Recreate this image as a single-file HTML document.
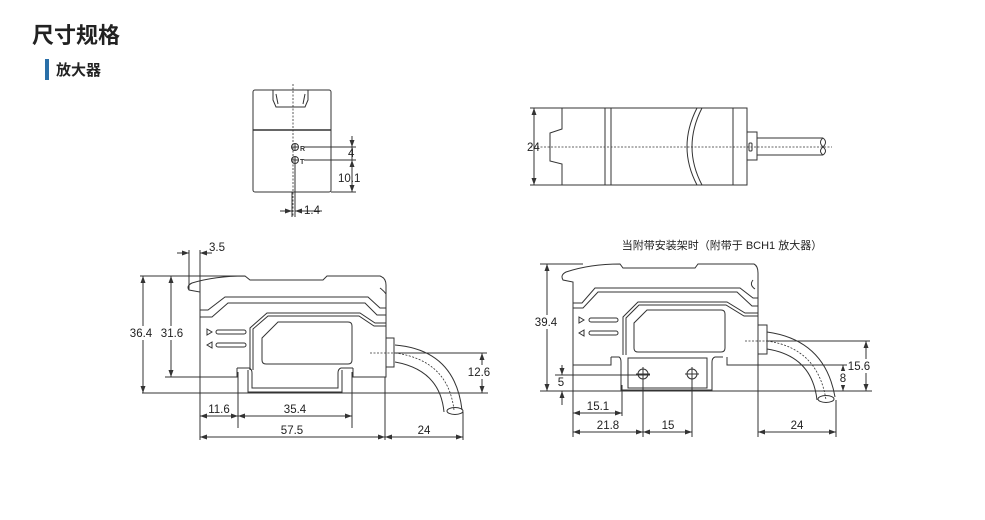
<!DOCTYPE html>
<html><head><meta charset="utf-8"><style>
html,body{margin:0;padding:0;background:#fff;}
body{width:985px;height:520px;overflow:hidden;position:relative;}
svg{position:absolute;left:0;top:0;}
.t{font-family:"Liberation Sans","Noto Sans CJK SC",sans-serif;fill:#222;}
</style></head><body>
<svg width="985" height="520" viewBox="0 0 985 520" xmlns="http://www.w3.org/2000/svg">
<defs>
<marker id="a" markerWidth="8" markerHeight="6" refX="7" refY="3" orient="auto" markerUnits="userSpaceOnUse"><path d="M0,0.5 L7,3 L0,5.5 Z" fill="#333"/></marker>
<marker id="b" markerWidth="8" markerHeight="6" refX="1" refY="3" orient="auto" markerUnits="userSpaceOnUse"><path d="M8,0.5 L1,3 L8,5.5 Z" fill="#333"/></marker>
</defs>
<text x="32" y="43" class="t" font-size="22" font-weight="bold" fill="#111">尺寸规格</text>
<rect x="45" y="59" width="4" height="21" fill="#2a6fa8"/>
<text x="56" y="75" class="t" font-size="15" font-weight="bold">放大器</text>

<g fill="none" stroke="#333" stroke-width="1">
<!-- front view -->
<rect x="253" y="90" width="78" height="102" rx="2"/>
<line x1="253" y1="130" x2="331" y2="130" stroke-width="1.5"/>
<path d="M273,90 L273,100 L276,107 L305,107 L308,100 L308,90"/>
<path d="M276,94 L278,104 M305,94 L303,104"/>
<line x1="293" y1="84" x2="293" y2="217" stroke-dasharray="2,1.5" stroke-width="0.8"/>
<circle cx="295" cy="147" r="3.5"/><circle cx="295" cy="160" r="3.5"/>
<path d="M291.5,147 H298.5 M295,143.5 V150.5 M291.5,160 H298.5 M295,156.5 V163.5"/>
<line x1="304" y1="147" x2="356" y2="147"/><line x1="304" y1="160" x2="356" y2="160"/>
<line x1="331" y1="192" x2="356" y2="192"/>
<line x1="352" y1="136" x2="352" y2="147" marker-end="url(#a)"/>
<line x1="352" y1="160" x2="352" y2="192" marker-start="url(#b)" marker-end="url(#a)"/>
<line x1="352" y1="147" x2="352" y2="160"/>
<line x1="292" y1="192" x2="292" y2="217"/><line x1="295" y1="164" x2="295" y2="217"/>
<line x1="280" y1="211" x2="292" y2="211" marker-end="url(#a)"/>
<line x1="295" y1="211" x2="322" y2="211" marker-start="url(#b)"/>

<!-- side view -->
<line x1="534" y1="108" x2="534" y2="185" marker-start="url(#b)" marker-end="url(#a)"/>
<line x1="530" y1="108" x2="562" y2="108"/><line x1="530" y1="185" x2="562" y2="185"/>
<path d="M562,108 H747 V185 H562 V164 L550,161 V133 L562,129 Z"/>
<line x1="605" y1="108" x2="605" y2="185"/><line x1="611" y1="108" x2="611" y2="185"/>
<path d="M697,108 Q677,147 697,185 M702,108 Q682,147 702,185"/>
<line x1="733" y1="108" x2="733" y2="185"/>
<rect x="747" y="132" width="10" height="28"/>
<path d="M757,138 H823 M757,155 H823 M823,138 Q818,142 823,147 Q828,151 823,155 M823,138 Q828,142 823,147 Q818,151 823,155"/>
<rect x="749" y="143" width="3" height="8" rx="1"/>
<line x1="530" y1="147" x2="832" y2="147" stroke-dasharray="2,1.5" stroke-width="0.8"/>

<!-- bottom left -->
<path d="M200,377 V292 L189,290 Q186,286 192,283 Q215,276 245,276 L250,280 H323 L327,276 H380 Q386,278 386,285 V377 H353 V368 M237,368 V377 H200"/>
<path d="M237,368 H249 Q252,369 252,373 V388 H338 V373 Q338,369 341,368 H353"/>
<path d="M248,370 V392 H342 V370"/>
<path d="M200,310 H208 L225,297 H368 L380,308 H386"/>
<path d="M200,317 H212 L228,303 H365 L377,315 H386"/>
<path d="M250,370 V328 L267,313 H360 L375,323 H386"/>
<path d="M253,370 V329 L268,316 H359 L374,326 H386"/>
<path d="M262,338 L278,322 H348 Q352,322 352,326 V360 Q352,364 348,364 H266 Q262,364 262,360 Z"/>
<path d="M207,329 L212,332 L207,335 Z M212,342 L207,345 L212,348 Z"/>
<rect x="216" y="330" width="30" height="4" rx="2"/><rect x="216" y="343" width="30" height="4" rx="2"/>
<path d="M380,288 Q384,291 386,294" />
<rect x="386" y="338" width="8" height="29"/>
<path d="M395,345 Q455,350 462,410 M395,362 Q440,370 444,412"/>
<path d="M395,353 Q448,360 454,410" stroke-dasharray="2,1.5" stroke-width="0.8"/>
<ellipse cx="455" cy="411" rx="8" ry="3.5"/>
<line x1="370" y1="353" x2="487" y2="353" stroke-dasharray="2,1.5" stroke-width="0.8"/>
<line x1="395" y1="353" x2="487" y2="353"/>
<line x1="482" y1="353" x2="482" y2="393" marker-start="url(#b)" marker-end="url(#a)"/>
<line x1="142" y1="393" x2="488" y2="393"/>
<line x1="140" y1="276" x2="245" y2="276"/>
<line x1="165" y1="377" x2="200" y2="377"/>
<line x1="143" y1="276" x2="143" y2="393" marker-start="url(#b)" marker-end="url(#a)"/>
<line x1="171" y1="276" x2="171" y2="377" marker-start="url(#b)" marker-end="url(#a)"/>
<line x1="189" y1="250" x2="189" y2="290"/><line x1="200" y1="250" x2="200" y2="440"/>
<line x1="177" y1="253" x2="189" y2="253" marker-end="url(#a)"/>
<line x1="200" y1="253" x2="212" y2="253" marker-start="url(#b)"/>
<line x1="238" y1="372" x2="238" y2="428"/><line x1="352" y1="372" x2="352" y2="428"/>
<line x1="200" y1="416" x2="238" y2="416" marker-start="url(#b)" marker-end="url(#a)"/>
<line x1="238" y1="416" x2="352" y2="416" marker-start="url(#b)" marker-end="url(#a)"/>
<line x1="385" y1="377" x2="385" y2="440"/><line x1="463" y1="412" x2="463" y2="440"/>
<line x1="200" y1="437" x2="385" y2="437" marker-start="url(#b)" marker-end="url(#a)"/>
<line x1="385" y1="437" x2="463" y2="437" marker-start="url(#b)" marker-end="url(#a)"/>

<!-- bottom right -->
<path d="M573,365 V282 L563,280 Q560,275 566,272 Q590,264 620,264 L623,268 H695 L698,264 H754 Q758,266 758,273 V365 H727 V357 M611,357 V365 H573"/>
<path d="M611,357 H619 Q621,358 621,362 V390 H712 V362 Q712,358 715,357 H723"/>
<rect x="628" y="358" width="79" height="30"/>
<path d="M573,303 H582 L595,288 H740 L753,298 H758"/>
<path d="M573,308 H583 L598,292 H737 L752,306 H758"/>
<path d="M623,355 V317 L638,302 H727 L745,313 H758"/>
<path d="M626,355 V318 L639,305 H726 L744,316 H758"/>
<path d="M634,323 L647,310 H721 Q725,310 725,314 V348 Q725,352 721,352 H638 Q634,352 634,348 Z"/>
<path d="M579,317 L584,320 L579,323 Z M584,330 L579,333 L584,336 Z"/>
<rect x="589" y="318" width="29" height="4" rx="2"/><rect x="589" y="331" width="29" height="4" rx="2"/>
<path d="M753,280 Q749,285 755,289"/>
<circle cx="643" cy="374" r="5"/><circle cx="692" cy="374" r="5"/>
<path d="M636,374 H650 M643,367 V381 M685,374 H699 M692,367 V381"/>
<rect x="758" y="325" width="9" height="29"/>
<path d="M767,332 Q825,340 835,397 M767,349 Q812,356 817,400"/>
<path d="M767,341 Q818,348 826,400" stroke-dasharray="2,1.5" stroke-width="0.8"/>
<ellipse cx="826" cy="399" rx="8" ry="3.5"/>
<line x1="745" y1="341" x2="870" y2="341" stroke-dasharray="2,1.5" stroke-width="0.8"/>
<line x1="767" y1="341" x2="870" y2="341"/>
<line x1="727" y1="365" x2="855" y2="365"/>
<line x1="540" y1="391" x2="872" y2="391"/>
<line x1="540" y1="264" x2="583" y2="264"/>
<line x1="547" y1="264" x2="547" y2="391" marker-start="url(#b)" marker-end="url(#a)"/>
<line x1="555" y1="375" x2="650" y2="375"/>
<line x1="562" y1="365" x2="562" y2="375" marker-end="url(#a)"/>
<line x1="562" y1="405" x2="562" y2="391" marker-end="url(#a)"/>
<line x1="866" y1="341" x2="866" y2="391" marker-start="url(#b)" marker-end="url(#a)"/>
<line x1="843" y1="365" x2="843" y2="391" marker-start="url(#b)" marker-end="url(#a)"/>
<line x1="573" y1="365" x2="573" y2="437"/>
<line x1="622" y1="385" x2="622" y2="416"/>
<line x1="643" y1="379" x2="643" y2="437"/><line x1="692" y1="379" x2="692" y2="437"/>
<line x1="758" y1="354" x2="758" y2="437"/><line x1="836" y1="400" x2="836" y2="437"/>
<line x1="573" y1="413" x2="622" y2="413" marker-start="url(#b)" marker-end="url(#a)"/>
<line x1="573" y1="432" x2="643" y2="432" marker-start="url(#b)" marker-end="url(#a)"/>
<line x1="643" y1="432" x2="692" y2="432" marker-start="url(#b)" marker-end="url(#a)"/>
<line x1="758" y1="432" x2="836" y2="432" marker-start="url(#b)" marker-end="url(#a)"/>
</g>

<g fill="#fff">
<rect x="128" y="326" width="26" height="14"/><rect x="159" y="326" width="26" height="14"/>
<rect x="467" y="365" width="24" height="14"/>
<rect x="533" y="315" width="26" height="14"/>
<rect x="847" y="359" width="24" height="14"/>
<rect x="839" y="371" width="9" height="14"/>
</g>
<g class="t" font-size="11.5">
<text x="290" y="151" font-size="7" font-weight="bold" fill="#333" dx="10">R</text>
<text x="290" y="164" font-size="7" font-weight="bold" fill="#333" dx="10">T</text>
<text x="348" y="157">4</text>
<text x="338" y="182">10.1</text>
<text x="304" y="214">1.4</text>
<text x="527" y="151">24</text>
<text x="209" y="251">3.5</text>
<text x="141" y="337" text-anchor="middle">36.4</text>
<text x="172" y="337" text-anchor="middle">31.6</text>
<text x="479" y="376" text-anchor="middle">12.6</text>
<text x="219" y="413" text-anchor="middle">11.6</text>
<text x="295" y="413" text-anchor="middle">35.4</text>
<text x="292" y="434" text-anchor="middle">57.5</text>
<text x="424" y="434" text-anchor="middle">24</text>
<text x="546" y="326" text-anchor="middle">39.4</text>
<text x="561" y="386" text-anchor="middle">5</text>
<text x="859" y="370" text-anchor="middle">15.6</text>
<text x="843" y="382" text-anchor="middle">8</text>
<text x="598" y="410" text-anchor="middle">15.1</text>
<text x="608" y="429" text-anchor="middle">21.8</text>
<text x="668" y="429" text-anchor="middle">15</text>
<text x="797" y="429" text-anchor="middle">24</text>
<text x="722" y="249" text-anchor="middle" font-size="11">当附带安装架时（附带于 BCH1 放大器）</text>
</g>
</svg>
</body></html>
